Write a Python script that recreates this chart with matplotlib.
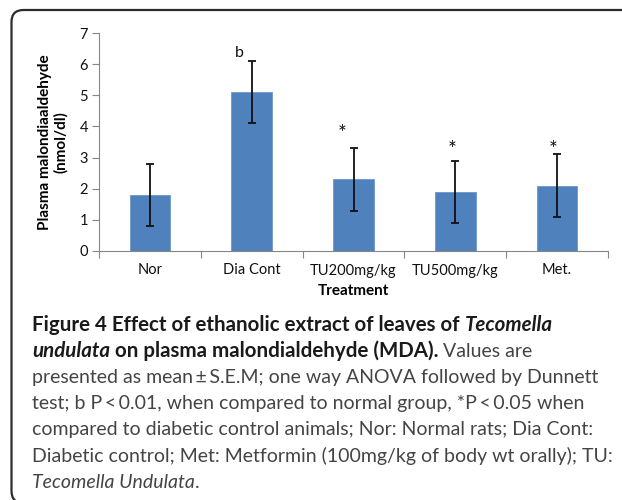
import matplotlib
matplotlib.use("Agg")
import matplotlib.pyplot as plt
from matplotlib.patches import FancyBboxPatch

# data
groups = ["Nor", "Dia Cont", "TU200mg/kg", "TU500mg/kg", "Met."]
mda_mean = [1.8, 5.1, 2.3, 1.9, 2.1]
mda_sem = [1.0, 1.0, 1.0, 1.0, 1.0]
marks = ["", "b", "*", "*", "*"]
mark_y = [None, 6.35, 3.75, 3.25, 3.25]
mark_dx = [0, -0.12, -0.11, -0.03, -0.04]

caption_lines = [
    [("Figure 4 Effect of ethanolic extract of leaves of ", "bold", "normal"),
     ("Tecomella", "bold", "italic")],
    [("undulata", "bold", "italic"),
     (" on plasma malondialdehyde (MDA).", "bold", "normal"),
     (" Values are", "normal", "normal")],
    [("presented as mean\u2009\u00b1\u2009S.E.M; one way ANOVA followed by Dunnett", "normal", "normal")],
    [("test; b P\u2009<\u20090.01, when compared to normal group, *P\u2009<\u20090.05 when", "normal", "normal")],
    [("compared to diabetic control animals; Nor: Normal rats; Dia Cont:", "normal", "normal")],
    [("Diabetic control; Met: Metformin (100mg/kg of body wt orally); TU:", "normal", "normal")],
    [("Tecomella Undulata", "normal", "italic"), (".", "normal", "normal")],
]

plt.rcParams["font.family"] = ["Lato", "DejaVu Sans"]

fig = plt.figure(figsize=(6.22, 5.0), dpi=100)
fig.patch.set_facecolor("white")

# rounded frame around the panel, in inches (runs off the right edge)
frame = FancyBboxPatch((0.115, -0.03), 7.0, 4.93,
                       boxstyle="round,pad=0,rounding_size=0.12",
                       transform=fig.dpi_scale_trans, facecolor="none",
                       edgecolor="#2b2b2b", linewidth=1.6)
fig.patches.append(frame)

ax = fig.add_axes([99 / 622, 249 / 500, 509 / 622, 218 / 500])
x = list(range(len(groups)))
ax.bar(x, mda_mean, width=0.4, color="#4f81bd", edgecolor="#6f97cb", linewidth=0.6,
       yerr=mda_sem, error_kw=dict(ecolor="#111111", elinewidth=1.3, capsize=2.6, capthick=1.3))

for xi, m, my, dx in zip(x, marks, mark_y, mark_dx):
    if m == "b":
        ax.text(xi + dx, my, m, ha="center", va="center", fontsize=11.5, color="#111111")
    elif m:
        ax.text(xi + dx, my, m, ha="center", va="center", fontsize=15, color="#111111")

ax.set_xlim(-0.5, 4.5)
ax.set_ylim(0, 7)
ax.set_yticks(range(0, 8))
ax.set_xticks(x)
ax.set_xticklabels(groups)
ax.set_xticks([i - 0.5 for i in range(len(groups) + 1)], minor=True)
ax.tick_params(axis="x", which="major", length=0, pad=9, labelsize=10.5, labelcolor="#111111")
ax.tick_params(axis="x", which="minor", length=5, color="#868686", width=0.8)
ax.tick_params(axis="y", length=5, color="#868686", width=0.8, labelsize=10.5, pad=3,
               labelcolor="#111111")
for s in ["top", "right"]:
    ax.spines[s].set_visible(False)
for s in ["left", "bottom"]:
    ax.spines[s].set_color("#868686")
    ax.spines[s].set_linewidth(0.8)

ax.set_ylabel("Plasma malondiaaldehyde\n(nmol/dl)", fontweight="bold", fontsize=11, labelpad=8,
              linespacing=1.15)
ax.set_xlabel("Treatment", fontweight="bold", fontsize=11, labelpad=5)

# caption, laid out piece by piece
fig.canvas.draw()
renderer = fig.canvas.get_renderer()
cap_x0 = 32
cap_y0 = 325
line_h = 26.2
for i, line in enumerate(caption_lines):
    xpos = cap_x0
    ypx = cap_y0 + i * line_h
    for txt, weight, style in line:
        if weight == "bold":
            color, size = "#1a1a1a", 14.8
        else:
            color, size = "#444444", 14.0
        t = fig.text(xpos / 622, 1 - ypx / 500, txt, fontsize=size, fontweight=weight,
                     fontstyle=style, color=color, ha="left", va="center",
                     family=["Lato", "DejaVu Sans"])
        bb = t.get_window_extent(renderer=renderer)
        xpos += bb.width

fig.savefig("out.png", dpi=100, facecolor="white")
